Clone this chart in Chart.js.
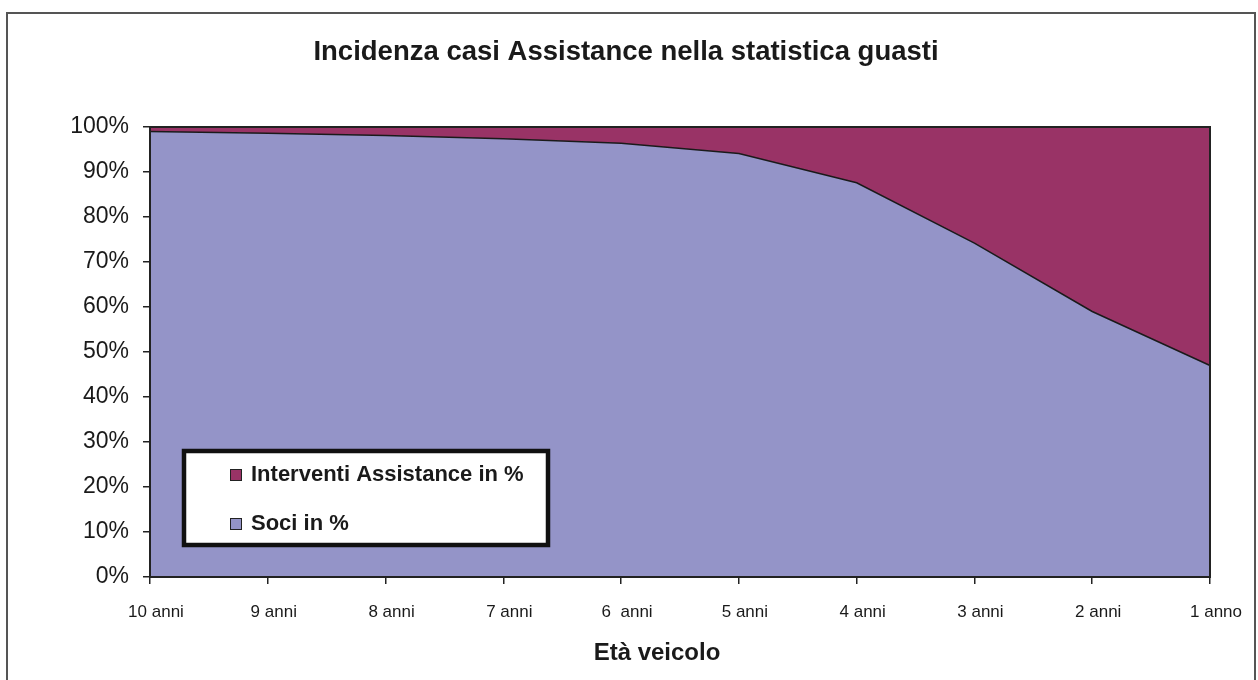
<!DOCTYPE html>
<html>
<head>
<meta charset="utf-8">
<style>
  html, body { margin: 0; padding: 0; background: #ffffff; }
  #wrap { width: 1258px; height: 680px; position: relative; }
</style>
<script src="https://cdn.jsdelivr.net/npm/chart.js@4.4.0/dist/chart.umd.min.js"></script>
</head>
<body>
<div id="wrap"><canvas id="c" width="1258" height="680"></canvas></div>
<script>
const chartTitle = 'Incidenza casi Assistance nella statistica guasti';
const xAxisTitle = 'Età veicolo';
const categories = ["10 anni", "9 anni", "8 anni", "7 anni", "6  anni", "5 anni", "4 anni", "3 anni", "2 anni", "1 anno"];
const sociPct = [99.0, 98.6, 98.1, 97.4, 96.4, 94.1, 87.6, 74.2, 59.0, 47.0];
const interventiPct = [1.0, 1.4, 1.9, 2.6, 3.6, 5.9, 12.4, 25.8, 41.0, 53.0];
const yTickValues = [0, 10, 20, 30, 40, 50, 60, 70, 80, 90, 100];

const FONT = "'Liberation Sans', Arial, sans-serif";

const framePlugin = {
  id: 'frame',
  beforeDraw(chart) {
    const ctx = chart.ctx;
    ctx.save();
    ctx.fillStyle = '#ffffff';
    ctx.fillRect(0, 0, chart.width, chart.height);
    ctx.strokeStyle = '#555555';
    ctx.lineWidth = 2;
    ctx.strokeRect(7, 13, 1248, 700);
    ctx.restore();
  },
  afterDatasetsDraw(chart) {
    const {ctx, chartArea: a} = chart;
    ctx.save();
    ctx.strokeStyle = '#222222';
    ctx.lineWidth = 2;
    ctx.strokeRect(a.left, a.top, a.right - a.left, a.bottom - a.top);
    ctx.restore();
  },
  afterDraw(chart) {
    const ctx = chart.ctx;
    ctx.save();
    ctx.fillStyle = '#1a1a1a';
    ctx.textAlign = 'center';
    ctx.textBaseline = 'alphabetic';
    ctx.font = "bold 27.5px " + FONT;
    ctx.fillText(chartTitle, 626, 60);
    ctx.font = "bold 24px " + FONT;
    ctx.fillText(xAxisTitle, 657, 660);
    ctx.restore();
  }
};

const legendBoxPlugin = {
  id: 'legendBox',
  afterDraw(chart) {
    const ctx = chart.ctx;
    ctx.save();
    const x = 184, y = 451, w = 364, h = 94;
    ctx.fillStyle = '#ffffff';
    ctx.fillRect(x, y, w, h);
    ctx.strokeStyle = '#111111';
    ctx.lineWidth = 4.5;
    ctx.strokeRect(x, y, w, h);
    const items = [chart.data.datasets[1], chart.data.datasets[0]];
    const rows = [474, 523];
    ctx.font = "bold 22px " + FONT;
    ctx.textBaseline = 'middle';
    ctx.textAlign = 'left';
    items.forEach((ds, i) => {
      const cy = rows[i];
      ctx.fillStyle = ds.backgroundColor;
      ctx.fillRect(230, cy - 5, 11, 11);
      ctx.strokeStyle = '#222222';
      ctx.lineWidth = 1;
      ctx.strokeRect(230.5, cy - 4.5, 11, 11);
      ctx.fillStyle = '#1a1a1a';
      ctx.fillText(ds.label, 251, cy + 1);
    });
    ctx.restore();
  }
};

new Chart(document.getElementById('c'), {
  type: 'line',
  data: {
    labels: categories,
    datasets: [
      {
        label: 'Soci in %',
        data: sociPct,
        backgroundColor: '#9494C8',
        borderColor: '#1a1a1a',
        borderWidth: 1.5,
        fill: 'origin',
        pointRadius: 0,
        tension: 0
      },
      {
        label: 'Interventi Assistance in %',
        data: interventiPct,
        backgroundColor: '#993366',
        borderColor: '#1a1a1a',
        borderWidth: 1.5,
        fill: '-1',
        pointRadius: 0,
        tension: 0
      }
    ]
  },
  options: {
    responsive: false,
    animation: false,
    devicePixelRatio: 1,
    layout: { padding: { left: 0, right: 48, top: 127, bottom: 0 } },
    plugins: {
      legend: { display: false },
      tooltip: { enabled: false },
      title: { display: false }
    },
    scales: {
      x: {
        type: 'category',
        offset: false,
        grid: { display: true, drawOnChartArea: false, drawTicks: true, tickLength: 7, color: '#222222', lineWidth: 1.5 },
        border: { display: true, color: '#222222', width: 2 },
        ticks: {
          color: '#1a1a1a',
          font: { family: FONT, size: 17 },
          padding: 18,
          labelOffset: 6,
          maxRotation: 0,
          autoSkip: false
        },
        afterFit(scale) { scale.height = 103; }
      },
      y: {
        stacked: true,
        min: 0,
        max: 100,
        afterBuildTicks(scale) { scale.ticks = yTickValues.map(v => ({ value: v })); },
        grid: { display: true, drawOnChartArea: false, drawTicks: true, tickLength: 7, color: '#222222', lineWidth: 1.5 },
        border: { display: true, color: '#222222', width: 2 },
        ticks: {
          color: '#1a1a1a',
          font: { family: FONT, size: 23 },
          padding: 14,
          callback: v => v + '%'
        },
        afterFit(scale) { scale.width = 150; }
      }
    }
  },
  plugins: [framePlugin, legendBoxPlugin]
});
</script>
</body>
</html>
